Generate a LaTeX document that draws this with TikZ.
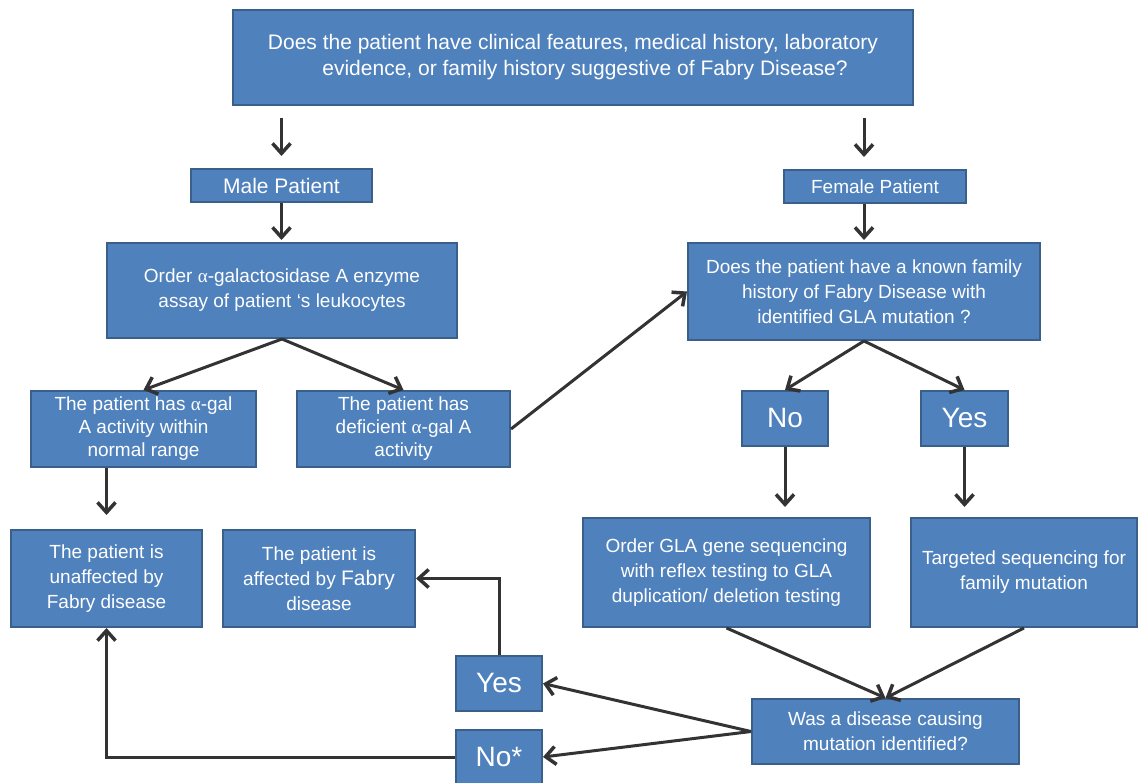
\documentclass[tikz,border=0pt]{standalone}
\usepackage{fontspec}
\setmainfont{Liberation Sans}
\newfontfamily\alphafont{Liberation Serif}
\usepackage{tikz}
\usetikzlibrary{arrows.meta,positioning,calc}
\definecolor{boxblue}{HTML}{4F81BD}
\definecolor{boxedge}{HTML}{3A5F8B}
\definecolor{arrowgray}{HTML}{333333}
\newcommand{\galpha}{{\alphafont α}}
\tikzset{
  flowbox/.style={rectangle,draw=boxedge,fill=boxblue,text=white,line width=2pt,
    inner sep=0pt,align=center,font=\fontsize{19}{25}\selectfont},
  answer/.style={flowbox,font=\fontsize{28}{32}\selectfont},
  arr/.style={-{Straight Barb[length=10pt,width=18pt,line width=3.5pt]},line width=3pt,draw=arrowgray},
}

\begin{document}
\begin{tikzpicture}[x=1pt,y=-1pt]
  \useasboundingbox (0,0) rectangle (1138,783);
  % question boxes
  \node[flowbox,minimum width=680pt,minimum height=95pt,font=\fontsize{21}{26}\selectfont] (top) at (573,57.5) {
    Does the patient have clinical features, medical history, laboratory\\
    \hspace*{24pt}evidence, or family history suggestive of Fabry Disease?};
  \node[flowbox,minimum width=181pt,minimum height=33pt,font=\fontsize{21}{24}\selectfont] (male) at (281.5,185.5) {Male Patient};
  \node[flowbox,minimum width=182pt,minimum height=33pt] (female) at (875,186.5) {Female Patient};
  \node[flowbox,minimum width=350pt,minimum height=95pt] (order) at (282,290.5) {
    Order \galpha-galactosidase A enzyme\\assay of patient ‘s leukocytes};
  \node[flowbox,minimum width=352pt,minimum height=97pt] (fhist) at (864,291.5) {
    Does the patient have a known family\\history of Fabry Disease with\\identified GLA mutation ?};
  \node[flowbox,minimum width=225pt,minimum height=76pt,font=\fontsize{19}{23}\selectfont] (normal) at (143.5,429) {
    The patient has \galpha-gal\\A activity within\\normal range};
  \node[flowbox,minimum width=213pt,minimum height=76pt,font=\fontsize{19}{23}\selectfont] (deficient) at (403.5,429) {
    The patient has\\deficient \galpha-gal A\\activity};
  \node[answer,minimum width=86pt,minimum height=55pt] (no1) at (785,418.5) {No};
  \node[answer,minimum width=87pt,minimum height=55pt] (yes1) at (964.5,418.5) {Yes};
  % outcome boxes
  \node[flowbox,minimum width=191pt,minimum height=97pt] (unaff) at (106.5,578.5) {
    The patient is\\unaffected by\\Fabry disease};
  \node[flowbox,minimum width=192pt,minimum height=97pt] (aff) at (319,578.5) {
    The patient is\\affected by {\fontsize{21}{25}\selectfont Fabry}\\disease};
  \node[flowbox,minimum width=287pt,minimum height=109pt] (gla) at (726.5,572.5) {
    Order GLA gene sequencing\\with reflex testing to GLA\\duplication/ deletion testing};
  \node[flowbox,minimum width=226pt,minimum height=109pt] (targ) at (1024,572.5) {
    Targeted sequencing for\\family mutation};
  \node[answer,minimum width=86pt,minimum height=55pt] (yes2) at (499,683.5) {Yes};
  \node[answer,minimum width=86pt,minimum height=54pt] (no2) at (499,757) {No*};
  \node[flowbox,minimum width=267pt,minimum height=65pt] (was) at (885.5,731.5) {
    Was a disease causing\\mutation identified?};
  % connectors
  \draw[arr,shorten <=12pt,shorten >=12pt] (top.south -| male.north) -- (male.north);
  \draw[arr,shorten <=12pt,shorten >=12pt] (top.south -| fhist.north) -- (female.north -| fhist.north);
  \draw[arr,shorten >=2pt] (male.south) -- (male.south |- order.north);
  \draw[arr,shorten >=2pt] (female.south -| fhist.north) -- (fhist.north);
  \draw[arr] (order.south) -- (normal.north);
  \draw[arr] (order.south) -- (deficient.north);
  \draw[arr] (deficient.east) -- (fhist.west);
  \draw[arr] (fhist.south) -- (no1.north);
  \draw[arr] (fhist.south) -- (yes1.north);
  \draw[arr,shorten >=14pt] (normal.south -| unaff.north) -- (unaff.north);
  \draw[arr,shorten >=10pt] (no1.south) -- (no1.south |- gla.north);
  \draw[arr,shorten >=10pt] (yes1.south) -- (yes1.south |- targ.north);
  \draw[arr] (gla.south) -- (was.north);
  \draw[arr] (targ.south) -- (was.north);
  \draw[arr] (was.west) -- (yes2.east);
  \draw[arr] (was.west) -- (no2.east);
  \draw[arr] (yes2.north) |- (aff.east);
  \draw[arr] (no2.west) -| (unaff.south);
\end{tikzpicture}
\end{document}
